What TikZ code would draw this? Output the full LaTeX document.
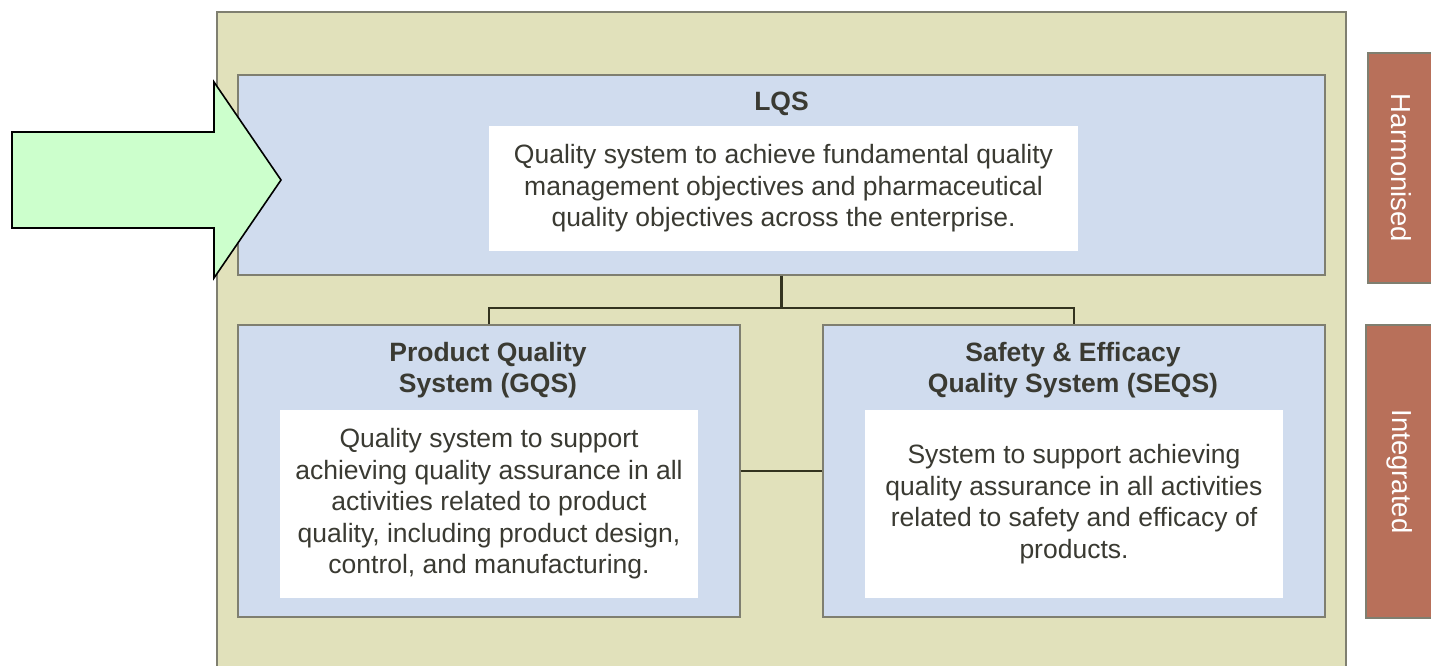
\documentclass[tikz,border=0pt]{standalone}
\usepackage{fontspec}
\setmainfont{Liberation Sans}
\definecolor{tan}{HTML}{E1E1BB}
\definecolor{bluefill}{HTML}{D0DCEE}
\definecolor{edgegray}{HTML}{7F7F70}
\definecolor{rust}{HTML}{B8705A}
\definecolor{arrowgreen}{HTML}{CCFFCC}
\definecolor{txt}{HTML}{3A3A32}
\definecolor{conncol}{HTML}{33331F}
\tikzset{
  bluebox/.style={draw=edgegray, fill=bluefill, line width=1.3pt, inner sep=0pt},
  whitebox/.style={fill=white, inner sep=0pt, align=center, text=txt, font=\fontsize{26.5}{31.5}\selectfont},
  title/.style={align=center, text=txt, font=\bfseries\fontsize{26.5}{31}\selectfont},
  sidebox/.style={draw=edgegray, fill=rust, line width=1.3pt, inner sep=0pt},
  sidetext/.style={text=white, rotate=-90, font=\fontsize{27.5}{30}\selectfont},
  conn/.style={draw=conncol, line width=2.2pt},
}
\begin{document}
\begin{tikzpicture}[x=1pt,y=-1pt]
\useasboundingbox (0,0) rectangle (1431,666);
% outer panel
\fill[tan] (217,12) rectangle (1346,680);
\draw[edgegray, line width=1.3pt] (217,680) -- (217,12) -- (1346,12) -- (1346,680);
% LQS
\node[bluebox, minimum width=1087pt, minimum height=200pt] (lqs) at (781.5,175) {};
\node[title] (lqst) at (781.5,104) {LQS};
\node[whitebox, minimum width=589pt, minimum height=124pt] (lqsw) at (783.5,188.5)
  {Quality system to achieve fundamental quality\\management objectives and pharmaceutical\\quality objectives across the enterprise.};
% Product
\node[bluebox, minimum width=502pt, minimum height=292pt] (pqs) at (489,471) {};
\node[title] (pqst) at (488,370.5) {Product Quality\\System (GQS)};
\node[whitebox, minimum width=418pt, minimum height=188pt] (pqsw) at (489,504)
  {Quality system to support\\achieving quality assurance in all\\activities related to product\\quality, including product design,\\control, and manufacturing.};
% SEQS
\node[bluebox, minimum width=502pt, minimum height=292pt] (seqs) at (1074,471) {};
\node[title] (seqst) at (1073,370.5) {Safety \& Efficacy\\Quality System (SEQS)};
\node[whitebox, minimum width=418pt, minimum height=188pt] (seqsw) at (1074,504)
  {System to support achieving\\quality assurance in all activities\\related to safety and efficacy of\\products.};
% connectors
\coordinate (split) at (781.5,308);
\draw[conn] (lqs.south) -- (split);
\draw[conn] (split) -| (pqs.north);
\draw[conn] (split) -| (seqs.north);
\draw[conn] (pqs.east) -- (seqs.west);
% arrow
\draw[black, line width=1.6pt, fill=arrowgreen, line join=miter]
  (12,132) -- (214,132) -- (214,82) -- (281,180) -- (214,278) -- (214,228) -- (12,228) -- cycle;
% side labels
\node[sidebox, minimum width=80pt, minimum height=230pt] (harm) at (1408,168) {};
\node[sidetext] (harmt) at (1401,168) {Harmonised};
\node[sidebox, minimum width=82pt, minimum height=293pt] (integ) at (1407,471.5) {};
\node[sidetext] (integt) at (1400,471.5) {Integrated};
\end{tikzpicture}
\end{document}
